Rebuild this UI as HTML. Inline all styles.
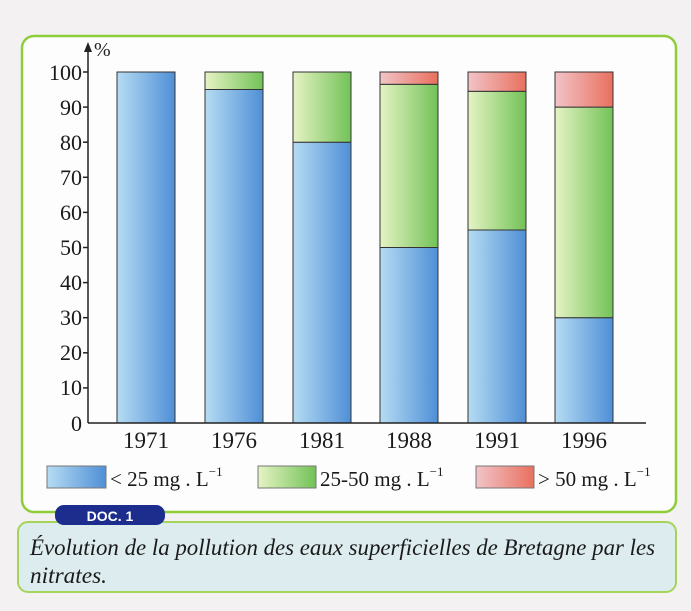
<!DOCTYPE html>
<html><head><meta charset="utf-8"><style>
body{margin:0;width:691px;height:611px;background:#f3f1f1;overflow:hidden;font-family:"Liberation Serif",serif;}
</style></head><body>
<svg width="691" height="611" xmlns="http://www.w3.org/2000/svg" style="position:absolute;left:0;top:0">
<defs>
<linearGradient id="b" x1="0" x2="1"><stop offset="0" stop-color="#b6dcf3"/><stop offset="1" stop-color="#4f8fd6"/></linearGradient>
<linearGradient id="g" x1="0" x2="1"><stop offset="0" stop-color="#e6f3c4"/><stop offset="1" stop-color="#72c257"/></linearGradient>
<linearGradient id="r" x1="0" x2="1"><stop offset="0" stop-color="#f2c4c8"/><stop offset="1" stop-color="#e8705e"/></linearGradient>
</defs>
<rect x="22" y="36" width="654" height="476" rx="12" fill="#fdfdfd" stroke="#8fcc3a" stroke-width="2.5"/>
<rect x="18" y="522" width="658" height="70" rx="10" fill="#dcecef" stroke="#a6d45a" stroke-width="2"/>
<rect x="55" y="505" width="110" height="20" rx="9" fill="#1c2d8e"/>
<text x="110" y="521" font-family="Liberation Sans,sans-serif" font-size="14" font-weight="bold" fill="#fff" text-anchor="middle">DOC. 1</text>
<text x="30" y="555" font-size="23" font-style="italic" fill="#1a1a1a" textLength="625" lengthAdjust="spacingAndGlyphs">Évolution de la pollution des eaux superficielles de Bretagne par les</text>
<text x="30" y="583" font-size="23" font-style="italic" fill="#1a1a1a" textLength="77" lengthAdjust="spacingAndGlyphs">nitrates.</text>
<g stroke="#333" stroke-width="1">
<rect x="117" y="72" width="58" height="351" fill="url(#b)"/>
<rect x="205" y="89.5" width="58" height="333.5" fill="url(#b)"/>
<rect x="205" y="72" width="58" height="17.5" fill="url(#g)"/>
<rect x="293" y="142.2" width="58" height="280.8" fill="url(#b)"/>
<rect x="293" y="72" width="58" height="70.2" fill="url(#g)"/>
<rect x="380" y="247.5" width="58" height="175.5" fill="url(#b)"/>
<rect x="380" y="84.3" width="58" height="163.2" fill="url(#g)"/>
<rect x="380" y="72" width="58" height="12.3" fill="url(#r)"/>
<rect x="468" y="230" width="58" height="193" fill="url(#b)"/>
<rect x="468" y="91.3" width="58" height="138.7" fill="url(#g)"/>
<rect x="468" y="72" width="58" height="19.3" fill="url(#r)"/>
<rect x="555" y="317.7" width="58" height="105.3" fill="url(#b)"/>
<rect x="555" y="107.1" width="58" height="210.6" fill="url(#g)"/>
<rect x="555" y="72" width="58" height="35.1" fill="url(#r)"/>
<rect x="47" y="466" width="59" height="22" fill="url(#b)" stroke="#777"/>
<rect x="258" y="466" width="58" height="22" fill="url(#g)" stroke="#777"/>
<rect x="476" y="466" width="58" height="22" fill="url(#r)" stroke="#777"/>
</g>
<g stroke="#222" stroke-width="1.5">
<line x1="88" y1="48" x2="88" y2="423"/>
<line x1="88" y1="423" x2="646" y2="423"/>
<line x1="83" y1="72" x2="88" y2="72"/><line x1="83" y1="107.1" x2="88" y2="107.1"/><line x1="83" y1="142.2" x2="88" y2="142.2"/><line x1="83" y1="177.3" x2="88" y2="177.3"/><line x1="83" y1="212.4" x2="88" y2="212.4"/><line x1="83" y1="247.5" x2="88" y2="247.5"/><line x1="83" y1="282.6" x2="88" y2="282.6"/><line x1="83" y1="317.7" x2="88" y2="317.7"/><line x1="83" y1="352.8" x2="88" y2="352.8"/><line x1="83" y1="387.9" x2="88" y2="387.9"/>
</g>
<polygon points="88,42 84,52 92,52" fill="#222"/>
<text x="94" y="56" font-size="20" fill="#222">%</text>
<g font-size="22" fill="#1a1a1a" text-anchor="end">
<text x="82" y="80">100</text><text x="82" y="115">90</text><text x="82" y="150">80</text><text x="82" y="185">70</text><text x="82" y="220">60</text><text x="82" y="255">50</text><text x="82" y="290">40</text><text x="82" y="325">30</text><text x="82" y="360">20</text><text x="82" y="395">10</text><text x="82" y="431">0</text>
</g>
<g font-size="23" fill="#1a1a1a" text-anchor="middle">
<text x="146" y="448">1971</text><text x="234" y="448">1976</text><text x="322" y="448">1981</text><text x="409" y="448">1988</text><text x="497" y="448">1991</text><text x="584" y="448">1996</text>
</g>
<g font-size="21" fill="#1a1a1a">
<text x="110" y="486">&lt; 25 mg . L<tspan font-size="13" dy="-10">−1</tspan></text>
<text x="320" y="486">25-50 mg . L<tspan font-size="13" dy="-10">−1</tspan></text>
<text x="538" y="486">&gt; 50 mg . L<tspan font-size="13" dy="-10">−1</tspan></text>
</g>
</svg>
</body></html>
